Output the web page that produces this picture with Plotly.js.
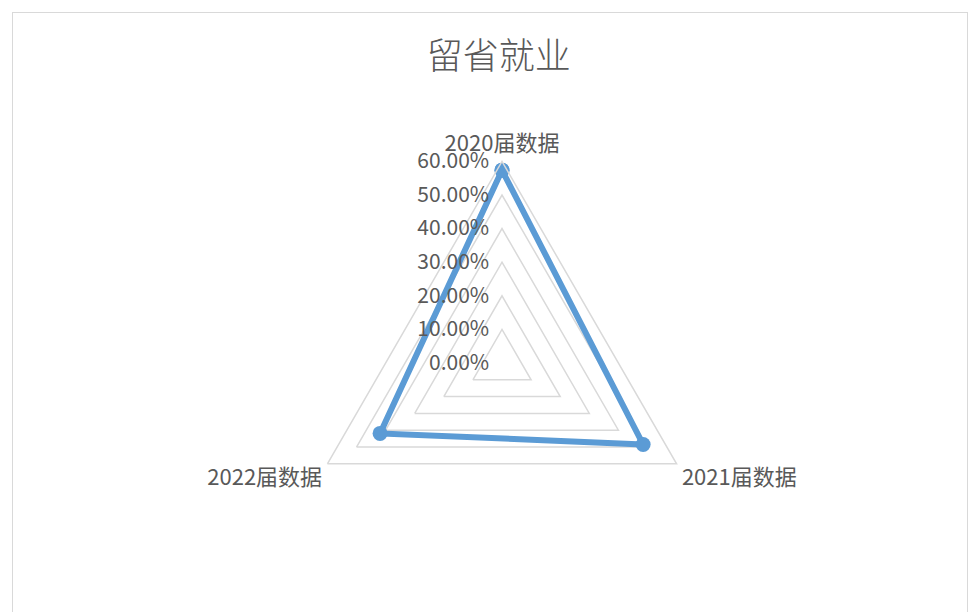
<!DOCTYPE html>
<html><head><meta charset="utf-8">
<script src="https://cdn.plot.ly/plotly-3.0.1.min.js"></script>
<style>
html,body{margin:0;padding:0;background:#fff;}
#wrap{position:absolute;left:0;top:0;width:978px;height:612px;}
#frame{position:absolute;left:12px;top:12px;width:956px;height:620px;border:1px solid #d9d9d9;box-sizing:border-box;pointer-events:none;}
#chart{position:absolute;left:0;top:0;width:978px;height:612px;}
</style></head>
<body>
<div id="wrap"><div id="chart"></div><div id="frame"></div></div>
<script>
const categories = ['2020届数据', '2021届数据', '2022届数据'];
const values = [0.574, 0.485, 0.419];
const titleText = '留省就业';

const theta = categories.concat([categories[0]]);
const r = values.concat([values[0]]);

const font = '"Noto Sans CJK SC", "Noto Sans", sans-serif';
const W = 978, H = 612, cx = 502, cy = 363, R = 201.6;

Plotly.newPlot('chart', [{
  type: 'scatterpolar',
  r: r, theta: theta,
  mode: 'lines+markers',
  line: {color: '#5B9BD5', width: 6},
  marker: {color: '#5B9BD5', size: 15},
  hoverinfo: 'none',
  cliponaxis: false
}], {
  width: W, height: H,
  margin: {l: 0, r: 0, t: 0, b: 0},
  paper_bgcolor: '#fff',
  showlegend: false,
  title: {text: titleText, font: {family: font, size: 36, color: '#595959', weight: 300}, x: 0.51, xanchor: 'center', y: 0.908, yanchor: 'middle'},
  polar: {
    domain: {x: [(cx - R) / W, (cx + R) / W], y: [(H - cy - R) / H, (H - cy + R) / H]},
    gridshape: 'linear',
    bgcolor: '#fff',
    radialaxis: {
      range: [0, 0.6], dtick: 0.1, tickformat: '.2%',
      angle: 90, tickangle: 90, side: 'counterclockwise',
      showline: false, ticks: 'outside', ticklen: 5, tickcolor: 'rgba(0,0,0,0)',
      gridcolor: '#d9d9d9', gridwidth: 1.5,
      tickfont: {family: font, size: 21, color: '#595959'}
    },
    angularaxis: {
      rotation: 90, direction: 'clockwise',
      showgrid: false, showline: true, linecolor: '#d9d9d9', linewidth: 1.5,
      ticks: 'outside', ticklen: 1, tickcolor: 'rgba(0,0,0,0)',
      tickfont: {family: font, size: 22, color: '#595959'}
    }
  }
}, {staticPlot: true});
</script>
</body></html>
